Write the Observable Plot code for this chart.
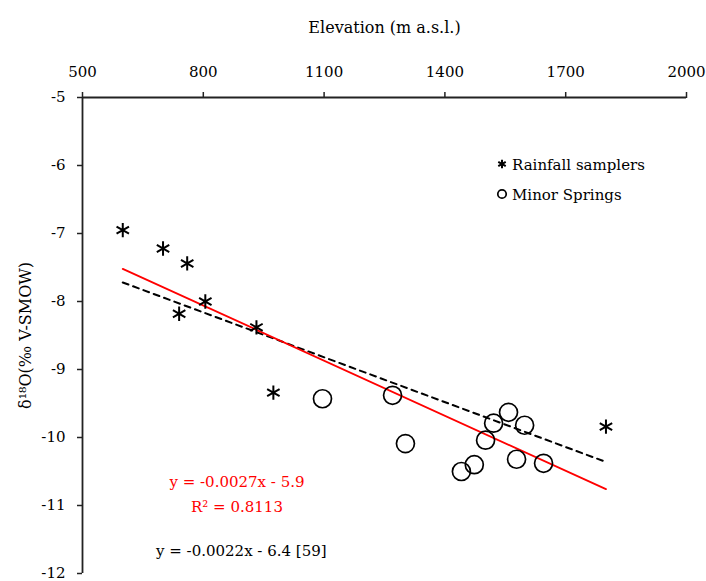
<!DOCTYPE html>
<html><head><meta charset="utf-8">
<script src="https://cdn.jsdelivr.net/npm/d3@7"></script>
<script src="https://cdn.jsdelivr.net/npm/@observablehq/plot@0.6"></script>
<style>
body{margin:0;background:#fff;}
#wrap{width:706px;height:581px;}
</style></head><body><div id="wrap"></div>
<script>
// Rainfall samplers (asterisks)
const rainElev = [600, 700, 760, 740, 805, 932, 974, 1800];
const rainD18O = [-6.95, -7.22, -7.44, -8.18, -8.00, -8.38, -9.34, -9.84];
// Minor springs (open circles)
const springElev = [1096, 1270, 1302, 1441, 1473, 1501, 1521, 1558, 1578, 1598, 1645];
const springD18O = [-9.43, -9.38, -10.09, -10.50, -10.40, -10.04, -9.79, -9.63, -10.32, -9.82, -10.38];
// Fit lines (end points)
const fitElev = [600, 1800];
const fitThisD18O = [-7.52, -10.76];   // y = -0.0027x - 5.9
const fitRefD18O = [-7.72, -10.36];    // y = -0.0022x - 6.4 [59]
// Ticks
const xTicks = [500, 800, 1100, 1400, 1700, 2000];
const yTicks = [-12, -11, -10, -9, -8, -7, -6, -5];
// Texts
const seriesNames = ["Rainfall samplers", "Minor Springs"];
const eqThis = ["y = -0.0027x - 5.9", "R\u00B2 = 0.8113"];
const eqRef = "y = -0.0022x - 6.4 [59]";

const rain = rainElev.map((x, i) => ({x, y: rainD18O[i]}));
const springs = springElev.map((x, i) => ({x, y: springD18O[i]}));
const lineThis = fitElev.map((x, i) => ({x, y: fitThisD18O[i]}));
const lineRef = fitElev.map((x, i) => ({x, y: fitRefD18O[i]}));

const axisColor = "#222";
const plot = Plot.plot({
  width: 706, height: 581,
  marginLeft: 82, marginRight: 20, marginTop: 97, marginBottom: 8,
  style: {fontFamily: '"DejaVu Serif", serif', fontSize: "15px", color: "#000", background: "#fff"},
  x: {domain: [500, 2000]},
  y: {domain: [-12, -5]},
  marks: [
    Plot.axisX({ticks: xTicks, anchor: "top", tickSize: 6, tickPadding: 15, tickFormat: d => String(d),
      label: null, stroke: axisColor, strokeWidth: 1.5, strokeOpacity: 1}),
    Plot.axisX({ticks: [], anchor: "top", label: "Elevation (m a.s.l.)", labelAnchor: "center", labelArrow: "none",
      labelOffset: 76, fontSize: 16}),
    Plot.axisY({ticks: yTicks, anchor: "left", tickSize: 5, tickPadding: 12, tickFormat: d => String(d),
      label: null, stroke: axisColor, strokeWidth: 1.5, strokeOpacity: 1}),
    Plot.axisY({ticks: [], anchor: "left", label: "\u03B4\u00B9\u2078O(\u2030 V-SMOW)", labelAnchor: "center",
      labelArrow: "none", labelOffset: 63, fontSize: 16}),
    Plot.ruleY([-5], {stroke: axisColor, strokeWidth: 1.8}),
    Plot.ruleX([500], {stroke: axisColor, strokeWidth: 1.8}),
    Plot.line(lineRef, {x: "x", y: "y", stroke: "#000", strokeWidth: 2, strokeDasharray: "6,5"}),
    Plot.line(lineThis, {x: "x", y: "y", stroke: "#ff0000", strokeWidth: 1.8}),
    Plot.dot(springs, {x: "x", y: "y", r: 9, stroke: "#000", strokeWidth: 1.7, fill: "none"}),
    Plot.dot(rain, {x: "x", y: "y", r: 6.8, symbol: "asterisk", stroke: "#000", strokeWidth: 2})
  ]
});
document.getElementById("wrap").appendChild(plot);

// Legend and equations, drawn into the same SVG
const svg = d3.select(plot);
const g = svg.append("g").attr("font-family", '"DejaVu Serif", serif').attr("font-size", 15)
  .attr("text-anchor", "start");
const legendSymbols = [d3.symbolAsterisk, d3.symbolCircle];
const legendSizes = [52, 56];
const legendStroke = [2, 1.7];
seriesNames.forEach((name, i) => {
  const cy = 164 + i * 30;
  g.append("path")
    .attr("d", d3.symbol(legendSymbols[i], legendSizes[i])())
    .attr("transform", `translate(502,${cy})`)
    .attr("fill", "none").attr("stroke", "#000").attr("stroke-width", legendStroke[i]);
  g.append("text").attr("x", 512).attr("y", cy + 5.5).attr("text-anchor", "start").attr("fill", "#000").text(name);
});
eqThis.forEach((t, i) => {
  g.append("text").attr("x", 237).attr("y", 487 + i * 25).attr("text-anchor", "middle")
    .attr("fill", "#ff0000").text(t);
});
g.append("text").attr("x", 156).attr("y", 556).attr("text-anchor", "start").attr("fill", "#000").text(eqRef);
</script>
</body></html>
